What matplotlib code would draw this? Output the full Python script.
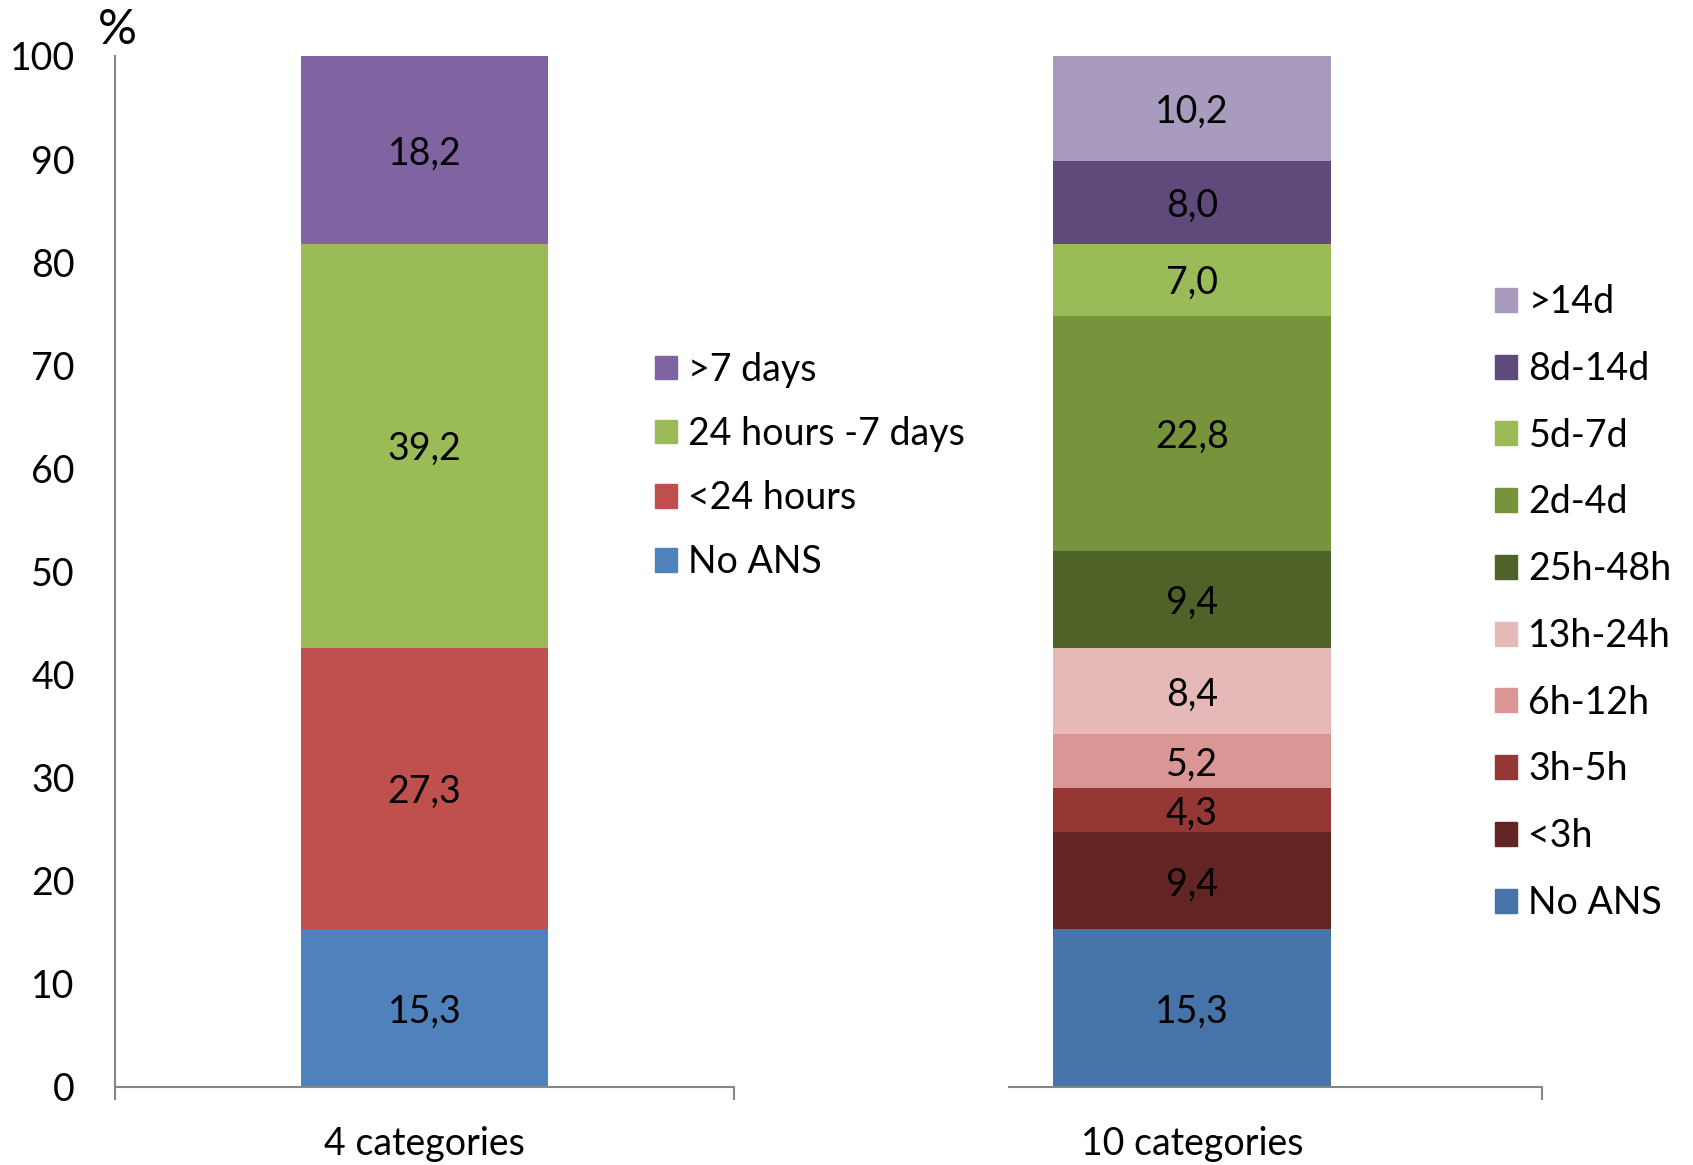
import matplotlib.pyplot as plt
from matplotlib.patches import Patch

plt.rcParams['font.family'] = ['Lato', 'DejaVu Sans']

# Four-category split
cats4 = ['No ANS', '<24 hours', '24 hours -7 days', '>7 days']
vals4 = [15.3, 27.3, 39.2, 18.2]
colors4 = ['#4F81BD', '#C0504D', '#9BBB59', '#8064A2']

# Ten-category split
cats10 = ['No ANS', '<3h', '3h-5h', '6h-12h', '13h-24h', '25h-48h',
          '2d-4d', '5d-7d', '8d-14d', '>14d']
vals10 = [15.3, 9.4, 4.3, 5.2, 8.4, 9.4, 22.8, 7.0, 8.0, 10.2]
colors10 = ['#4673A8', '#632523', '#953735', '#D99694', '#E6B9B8',
            '#4F6228', '#77933C', '#9BBB59', '#604A7B', '#A99BBD']

yticks = list(range(0, 101, 10))
GREY = '#868686'
FS = 27


def stacked_bar(ax, values, colors, width):
    bottom = 0
    for v, c in zip(values, colors):
        ax.bar(0, v, width=width, bottom=bottom, color=c, linewidth=0)
        ax.text(0, bottom + v / 2, f'{v:.1f}'.replace('.', ','),
                ha='center', va='center_baseline', fontsize=FS)
        bottom += v


fig = plt.figure(figsize=(16.93, 11.65), dpi=100)

# left chart
ax1 = fig.add_axes([0.0679, 0.067, 0.3657, 0.885])
stacked_bar(ax1, vals4, colors4, 0.4)
ax1.set_xlim(-0.5, 0.5)
ax1.set_ylim(0, 100)
ax1.set_yticks(yticks)
ax1.tick_params(axis='y', length=0, pad=29, labelsize=FS)
ax1.set_xticks([-0.5, 0.5])
ax1.set_xticklabels([])
ax1.set_xticks([0], minor=True)
ax1.set_xticklabels(['4 categories'], minor=True)
ax1.tick_params(axis='x', which='major', length=9, width=1.5, color=GREY, direction='out')
ax1.tick_params(axis='x', which='minor', length=0, pad=28, labelsize=FS)
for s in ['top', 'right']:
    ax1.spines[s].set_visible(False)
for s in ['left', 'bottom']:
    ax1.spines[s].set_color(GREY)
    ax1.spines[s].set_linewidth(1.5)
fig.text(0.0695, 0.974, '%', fontsize=35, ha='center', va='center')

# right chart
ax2 = fig.add_axes([0.596, 0.067, 0.3148, 0.885])
stacked_bar(ax2, vals10, colors10, 0.522)
ax2.set_xlim(-0.343, 0.657)
ax2.set_ylim(0, 100)
ax2.set_yticks([])
ax2.set_xticks([0.657])
ax2.set_xticklabels([])
ax2.set_xticks([0], minor=True)
ax2.set_xticklabels(['10 categories'], minor=True)
ax2.tick_params(axis='x', which='major', length=9, width=1.5, color=GREY, direction='out')
ax2.tick_params(axis='x', which='minor', length=0, pad=28, labelsize=FS)
for s in ['top', 'right', 'left']:
    ax2.spines[s].set_visible(False)
ax2.spines['bottom'].set_color(GREY)
ax2.spines['bottom'].set_linewidth(1.5)

# legends, top entry = top segment
h4 = [Patch(color=c) for c in colors4][::-1]
fig.legend(h4, cats4[::-1], loc='upper left', bbox_to_anchor=(0.378, 0.711),
           frameon=False, fontsize=FS, handlelength=0.6, handleheight=0.6,
           handletextpad=0.27, labelspacing=0.75, borderaxespad=0)

h10 = [Patch(color=c) for c in colors10][::-1]
fig.legend(h10, cats10[::-1], loc='upper left', bbox_to_anchor=(0.874, 0.769),
           frameon=False, fontsize=FS, handlelength=0.6, handleheight=0.6,
           handletextpad=0.3, labelspacing=0.82, borderaxespad=0)

fig.savefig('out.png', dpi=100)
